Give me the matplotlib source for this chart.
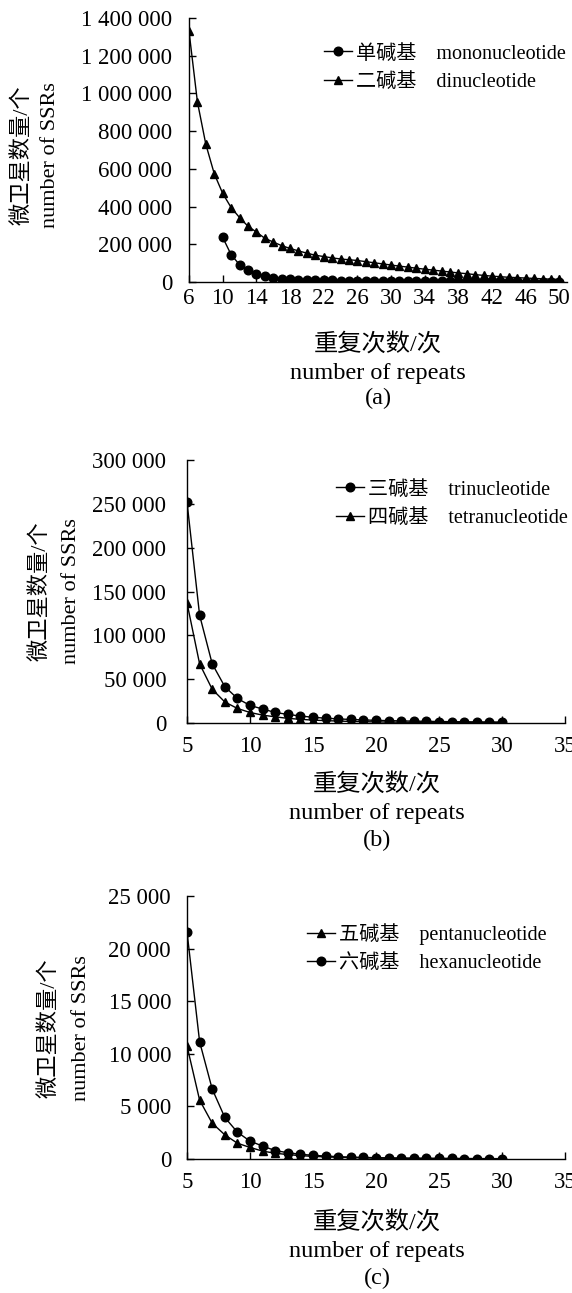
import matplotlib
matplotlib.use("Agg")
import matplotlib.pyplot as plt
from matplotlib.ticker import FuncFormatter, MultipleLocator, FixedLocator

plt.rcParams['font.family'] = ['Liberation Serif', 'Noto Sans CJK SC']
plt.rcParams['axes.unicode_minus'] = False

# panel (a): mono- and dinucleotide repeats
repeats_mono = list(range(10, 51))
mono = [237000, 145000, 92000, 62000, 42000, 30000, 22000, 17000, 14000, 12000,
        10500, 9500, 8500, 8000, 7500, 7000, 6500, 6000, 5800, 5500,
        5200, 5000, 4800, 4600, 4400, 4200, 4000, 3800, 3600, 3400,
        3200, 3100, 3000, 2900, 2800, 2700, 2600, 2500, 2400, 2300, 2200]
repeats_di = list(range(6, 51))
di = [1330000, 955000, 730000, 574000, 470000, 395000, 342000, 296000, 265000, 232000,
      212000, 193000, 178000, 165000, 153000, 142000, 135000, 128000, 122000, 118000,
      114000, 108000, 102000, 96000, 90000, 84000, 79000, 73000, 68000, 63000,
      58000, 53000, 48000, 44000, 39000, 35000, 31000, 28000, 25000, 23000,
      21000, 19000, 17000, 15000, 14000]
xticks_a = [6, 10, 14, 18, 22, 26, 30, 34, 38, 42, 46, 50]

# panel (b): tri- and tetranucleotide repeats
repeats_b = list(range(5, 31))
tri = [252000, 123000, 67500, 41500, 28000, 20000, 16000, 12000, 9800, 8000,
       6500, 5500, 4700, 4000, 3500, 3000, 2700, 2400, 2100, 1900,
       1700, 1500, 1400, 1300, 1200, 1100]
tetra = [137000, 67500, 38500, 24000, 16600, 12000, 9000, 7000, 5300, 4200,
         3300, 2700, 2200, 1800, 1500, 1250, 1050, 900, 780, 680,
         600, 530, 470, 420, 380, 340]

# panel (c): penta- and hexanucleotide repeats
repeats_c = list(range(5, 31))
penta = [10750, 5600, 3400, 2300, 1500, 1100, 750, 550, 420, 320,
         250, 200, 160, 130, 105, 88, 74, 63, 54, 47,
         41, 36, 32, 28, 25, 22]
hexa = [21600, 11150, 6650, 3950, 2550, 1700, 1230, 800, 600, 450,
        350, 280, 220, 180, 150, 125, 105, 90, 78, 68,
        60, 53, 47, 42, 38, 34]

W, H = 572, 1293
fig = plt.figure(figsize=(W / 100, H / 100), dpi=100)


def rect(left, right, top, bottom):
    return [left / W, 1 - bottom / H, (right - left) / W, (bottom - top) / H]


def fx(x):
    return x / W


def fy(y):
    return 1 - y / H


fmt = FuncFormatter(lambda v, p: f"{v:,.0f}".replace(",", " "))
TICK_FS = 16.5
YLAB_FS = 16
XLAB_FS = 17.5
LEG_FS = 14.5


def style_axes(ax, xlim, xticks, ylim, ystep, xpad, ypad):
    for s in ['top', 'right']:
        ax.spines[s].set_visible(False)
    for s in ['left', 'bottom']:
        ax.spines[s].set_linewidth(1.0)
    ax.set_xlim(*xlim)
    ax.set_ylim(*ylim)
    ax.xaxis.set_major_locator(FixedLocator(xticks))
    ax.yaxis.set_major_locator(MultipleLocator(ystep))
    ax.yaxis.set_major_formatter(fmt)
    ax.tick_params(axis='both', direction='in', length=5, width=1.0, labelsize=TICK_FS)
    ax.tick_params(axis='x', pad=xpad)
    ax.tick_params(axis='y', pad=ypad)


def labels(ax_center_x, ycn, yen, ypan, panel, ylx_cn, ylx_en, yl_y):
    fig.text(fx(ax_center_x), fy(ycn), "重复次数/次", ha='center', va='center', fontsize=XLAB_FS)
    fig.text(fx(ax_center_x), fy(yen), "number of repeats", ha='center', va='center', fontsize=XLAB_FS)
    fig.text(fx(ax_center_x), fy(ypan), panel, ha='center', va='center', fontsize=XLAB_FS)
    fig.text(fx(ylx_cn), fy(yl_y), "微卫星数量/个", ha='center', va='center', rotation=90, fontsize=YLAB_FS)
    fig.text(fx(ylx_en), fy(yl_y), "number of SSRs", ha='center', va='center', rotation=90, fontsize=YLAB_FS)


line_kw = dict(color='black', linewidth=1.0, markersize=6.2)
leg_kw = dict(loc='center left', bbox_transform=fig.transFigure, frameon=False,
              borderpad=0, borderaxespad=0, handlelength=1.4, handletextpad=0.2,
              labelspacing=0.45, fontsize=LEG_FS)

# ---- (a)
ax1 = fig.add_axes(rect(189, 567, 18, 282))
l_di, = ax1.plot(repeats_di, di, marker='^', **line_kw)
l_mono, = ax1.plot(repeats_mono, mono, marker='o', **line_kw)
style_axes(ax1, (6, 50.9), xticks_a, (0, 1400000), 200000, 4.5, 12)
ax1.legend([l_mono, l_di], ["单碱基    mononucleotide", "二碱基    dinucleotide"],
           bbox_to_anchor=(fx(324), fy(68)), **leg_kw)
labels(378, 345, 373, 398, "(a)", 22, 51, 155)

# ---- (b)
ax2 = fig.add_axes(rect(187, 565, 460, 723))
l_tetra, = ax2.plot(repeats_b, tetra, marker='^', **line_kw)
l_tri, = ax2.plot(repeats_b, tri, marker='o', **line_kw)
style_axes(ax2, (5, 35), [5, 10, 15, 20, 25, 30, 35], (0, 300000), 50000, 9.5, 15)
ax2.legend([l_tri, l_tetra], ["三碱基    trinucleotide", "四碱基    tetranucleotide"],
           bbox_to_anchor=(fx(336), fy(504)), **leg_kw)
labels(377, 785, 813, 840, "(b)", 40, 71, 591)

# ---- (c)
ax3 = fig.add_axes(rect(187, 565, 896, 1159))
l_penta, = ax3.plot(repeats_c, penta, marker='^', **line_kw)
l_hexa, = ax3.plot(repeats_c, hexa, marker='o', **line_kw)
style_axes(ax3, (5, 35), [5, 10, 15, 20, 25, 30, 35], (0, 25000), 5000, 9.5, 11.5)
ax3.legend([l_penta, l_hexa], ["五碱基    pentanucleotide", "六碱基    hexanucleotide"],
           bbox_to_anchor=(fx(307), fy(948)), **leg_kw)
labels(377, 1223, 1252, 1278, "(c)", 49, 82, 1028)

fig.savefig("out.png", dpi=100)
